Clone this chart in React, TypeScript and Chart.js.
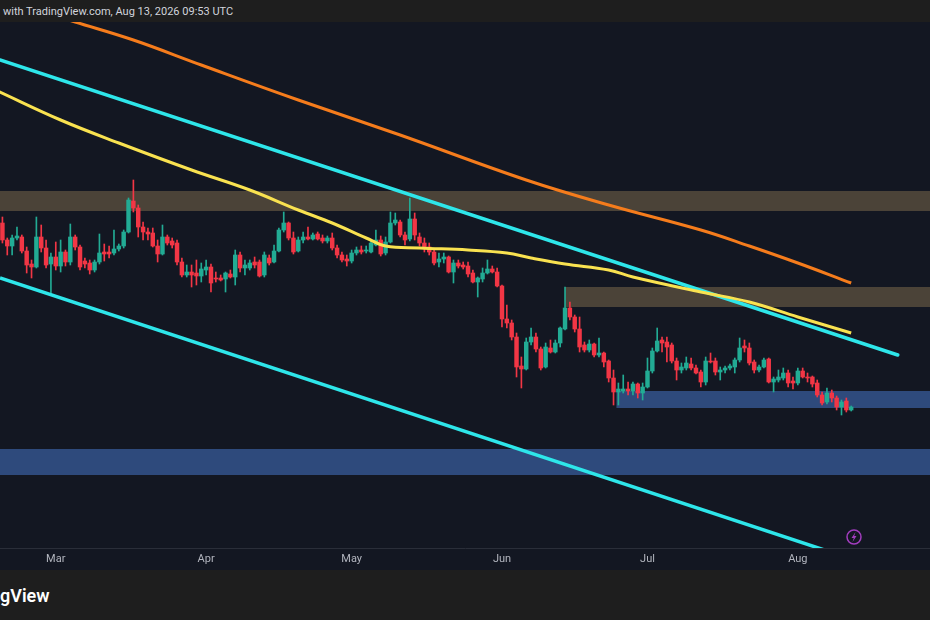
import { useEffect, useRef } from "react"
import { Chart, registerables, type Plugin } from "chart.js"

Chart.register(...registerables)

// daily candles, day-of-year index (Jan 1 = 0), first one is Feb 18
const firstDay = 48

const opens = [
  377, 360, 354, 362, 363, 349, 336, 333, 363, 352, 336, 343, 334, 348,
  338, 363, 353, 339, 337, 330, 338, 348, 348, 347, 351, 354, 368, 399,
  392, 373, 368, 367, 354, 346, 363, 359, 357, 338, 325, 328, 327, 324,
  330, 333, 322, 322, 321, 326, 323, 345, 332, 332, 338, 338, 325, 342,
  338, 349, 370, 377, 362, 349, 360, 363, 361, 366, 362, 359,
  362, 352, 345, 341, 339, 347, 350, 349, 348, 355, 360, 347, 358, 377, 378, 365, 361, 381, 363, 357, 353, 348,
  338, 341, 343, 328, 337, 335, 334, 327, 318, 321, 327, 331, 328, 314, 281, 277, 263, 234, 231, 258,
  263, 251, 233, 252, 248, 257, 271, 292, 283, 271,
  255, 250, 256, 245, 247, 239, 222, 208, 209, 211, 209, 216, 207, 213, 229, 249, 260, 258, 255, 239,
  230, 232, 236, 232, 228, 218, 239, 239, 228, 230,
  232, 233, 240, 254, 252, 238, 230, 233, 241, 218, 220, 222, 227, 219, 217, 229, 223, 223, 217, 205,
  198, 207, 202, 193, 199, 190,
]
const highs = [
  383, 362, 365, 373, 365, 353, 340, 383, 375, 360, 347, 358, 360, 350,
  376, 365, 355, 342, 340, 340, 366, 356, 354, 370, 356, 370, 402, 420,
  395, 378, 372, 372, 360, 375, 365, 362, 360, 342, 335, 335, 340, 337,
  340, 336, 328, 325, 328, 330, 350, 348, 340, 340, 343, 340, 348, 345,
  355, 372, 388, 378, 368, 363, 368, 373, 367, 368, 365, 364,
  367, 355, 348, 345, 350, 353, 354, 354, 360, 370, 364, 363, 388, 387, 380, 368, 402, 387, 367, 362, 357, 350,
  347, 347, 344, 340, 340, 338, 338, 330, 323, 332, 340, 334, 332, 315, 295, 280, 267, 243, 262, 272,
  267, 253, 257, 260, 260, 273, 313, 298, 285, 283,
  258, 260, 257, 262, 248, 240, 230, 217, 225, 218, 218, 217, 217, 242, 252, 272, 263, 263, 257, 242,
  237, 243, 242, 235, 230, 243, 247, 242, 233, 234,
  236, 242, 262, 260, 257, 240, 235, 242, 242, 223, 230, 232, 230, 223, 232, 232, 227, 224, 220, 208,
  212, 210, 204, 200, 202, 194,
]
const lows = [
  357, 345, 345, 360, 347, 327, 322, 332, 348, 332, 307, 330, 328, 334,
  335, 350, 330, 332, 326, 328, 336, 339, 342, 345, 349, 352, 367, 388,
  363, 360, 360, 353, 338, 345, 355, 352, 335, 323, 323, 313, 315, 318,
  325, 308, 318, 319, 308, 322, 315, 328, 325, 330, 332, 323, 323, 335,
  337, 348, 368, 360, 346, 348, 357, 360, 360, 360, 357, 357,
  350, 342, 338, 334, 337, 345, 346, 347, 347, 354, 344, 345, 357, 375, 363, 355, 359, 360, 354, 348, 345, 335,
  333, 337, 327, 317, 332, 331, 323, 317, 303, 318, 326, 327, 313, 273, 272, 260, 223, 212, 230, 255,
  248, 230, 232, 247, 247, 253, 270, 280, 268, 248,
  248, 248, 243, 243, 233, 218, 195, 195, 207, 205, 205, 202, 200, 212, 227, 248, 248, 238, 237, 220,
  227, 230, 230, 226, 213, 215, 237, 225, 220, 227,
  230, 227, 238, 248, 235, 227, 228, 232, 217, 208, 218, 220, 213, 211, 215, 222, 218, 213, 203, 195,
  196, 198, 190, 185, 188, 189,
]
const closes = [
  360, 354, 362, 364, 349, 335, 333, 363, 352, 335, 343, 334, 348, 338,
  363, 353, 333, 336, 330, 338, 347, 346, 346, 351, 354, 368, 400, 392,
  373, 368, 366, 354, 346, 363, 357, 355, 338, 325, 328, 325, 324, 331,
  333, 317, 321, 320, 327, 323, 345, 332, 335, 337, 335, 324, 345, 337,
  349, 370, 377, 362, 348, 360, 363, 361, 365, 361, 359, 362,
  352, 345, 340, 339, 347, 350, 348, 350, 357, 360, 346, 358, 377, 380, 365, 360, 381, 365, 357, 353, 348, 337,
  341, 343, 328, 337, 334, 333, 326, 318, 322, 327, 331, 328, 314, 281, 277, 263, 233, 231, 258, 263,
  251, 232, 253, 248, 257, 272, 292, 283, 271, 253,
  250, 256, 245, 247, 238, 222, 208, 211, 211, 209, 216, 207, 213, 229, 249, 259, 257, 253, 239, 230,
  233, 237, 232, 227, 218, 239, 238, 228, 230, 232,
  234, 240, 252, 252, 237, 230, 233, 240, 218, 221, 223, 227, 217, 217, 229, 223, 222, 216, 205, 197,
  207, 202, 193, 198, 190, 193,
]

const maYellow = [
  [47, 509], [60, 480], [72, 457], [87, 430], [99, 410], [109, 390], [116, 377], [123, 362],
  [127, 354], [134, 352], [144, 350], [152, 347], [157, 342], [164, 336], [173, 330], [178, 323],
  [192, 308], [202, 298], [212, 283], [223, 267],
]
const maOrange = [
  [47, 602], [63, 578], [75, 560], [89, 535], [109, 500], [130, 465], [156, 420], [173, 395],
  [192, 370], [202, 354], [212, 337], [223, 317],
]

// descending channel
const channelUpper = [[47.5, 540], [232.6, 245]]
const channelLower = [[47.5, 322], [220, 46]]

// zones: [fromDay, toDay, low, high]
const supplyZones = [[40, 250, 389, 409], [164, 250, 293, 313]]
const demandZones = [[174.6, 250, 192, 209], [40, 250, 125, 151]]

const monthTicks = [59, 90, 120, 151, 181, 212]
const monthLabels = ["Mar", "Apr", "May", "Jun", "Jul", "Aug"]

const UP = "#22ab94"
const DOWN = "#f23645"

const zonesPlugin: Plugin = {
  id: "zones",
  beforeDatasetsDraw(chart) {
    const { ctx, chartArea, scales } = chart
    const draw = (zones: number[][], color: string) => {
      zones.forEach(([from, to, low, high]) => {
        const x1 = Math.max(scales.x.getPixelForValue(from), chartArea.left)
        const x2 = Math.min(scales.x.getPixelForValue(to), chartArea.right)
        const y1 = scales.y.getPixelForValue(high)
        const y2 = scales.y.getPixelForValue(low)
        ctx.fillStyle = color
        ctx.fillRect(x1, y1, x2 - x1, y2 - y1)
      })
    }
    ctx.save()
    draw(supplyZones, "#4b4338")
    draw(demandZones, "#2e4a7c")
    ctx.restore()
  },
}

const iconPlugin: Plugin = {
  id: "icon",
  afterDraw(chart) {
    const { ctx, chartArea } = chart
    const cx = chartArea.right - 76
    const cy = chartArea.bottom - 11
    ctx.save()
    ctx.strokeStyle = "#a23dbf"
    ctx.lineWidth = 1.5
    ctx.beginPath()
    ctx.arc(cx, cy, 7, 0, Math.PI * 2)
    ctx.stroke()
    ctx.fillStyle = "#a23dbf"
    ctx.beginPath()
    ctx.moveTo(cx + 1.5, cy - 5)
    ctx.lineTo(cx - 2.5, cy + 1)
    ctx.lineTo(cx - 0.2, cy + 1)
    ctx.lineTo(cx - 1.5, cy + 5)
    ctx.lineTo(cx + 2.5, cy - 1)
    ctx.lineTo(cx + 0.2, cy - 1)
    ctx.closePath()
    ctx.fill()
    ctx.restore()
  },
}

export default function App() {
  const canvasRef = useRef<HTMLCanvasElement>(null)

  useEffect(() => {
    if (!canvasRef.current) return
    const days = opens.map((_, i) => firstDay + i)
    const colors = opens.map((o, i) => (closes[i] >= o ? UP : DOWN))
    const toPoints = (pts: number[][]) => pts.map(([x, y]) => ({ x, y }))

    const chart = new Chart(canvasRef.current, {
      type: "bar",
      data: {
        datasets: [
          {
            type: "line",
            data: toPoints(maOrange),
            borderColor: "#f57c1c",
            borderWidth: 3,
            pointRadius: 0,
            tension: 0.4,
            order: 0,
          },
          {
            type: "line",
            data: toPoints(maYellow),
            borderColor: "#f9e250",
            borderWidth: 3,
            pointRadius: 0,
            tension: 0.4,
            order: 0,
          },
          {
            type: "line",
            data: toPoints(channelUpper),
            borderColor: "#2ee6ea",
            borderWidth: 3.5,
            borderCapStyle: "round",
            pointRadius: 0,
            order: 0,
          },
          {
            type: "line",
            data: toPoints(channelLower),
            borderColor: "#2ee6ea",
            borderWidth: 3.5,
            pointRadius: 0,
            order: 0,
          },
          {
            type: "bar",
            data: days.map((d, i) => ({ x: d, y: [opens[i], closes[i]] })),
            backgroundColor: colors,
            barThickness: 3.8,
            minBarLength: 1,
            grouped: false,
            order: 1,
          },
          {
            type: "bar",
            data: days.map((d, i) => ({ x: d, y: [lows[i], highs[i]] })),
            backgroundColor: colors,
            barThickness: 1,
            grouped: false,
            order: 2,
          },
        ] as any,
      },
      options: {
        animation: false,
        responsive: true,
        maintainAspectRatio: false,
        events: [],
        layout: { padding: 0 },
        plugins: { legend: { display: false }, tooltip: { enabled: false } },
        scales: {
          x: {
            type: "linear",
            min: 47.5,
            max: 239.25,
            offset: false,
            grid: { display: false, drawTicks: false },
            border: { display: true, color: "#2a2e39" },
            afterBuildTicks: (scale) => {
              scale.ticks = monthTicks.map((value) => ({ value }))
            },
            afterFit: (scale) => {
              scale.height = 22
            },
            ticks: {
              autoSkip: false,
              maxRotation: 0,
              padding: 5,
              color: "#b2b5be",
              font: { family: "Roboto, Inter, sans-serif", size: 11 },
              callback: (value) => monthLabels[monthTicks.indexOf(Number(value))] ?? "",
            },
          },
          y: {
            display: false,
            min: 52,
            max: 578,
          },
        },
      },
      plugins: [zonesPlugin, iconPlugin],
    })

    return () => chart.destroy()
  }, [])

  return (
    <div style={{ position: "fixed", left: 0, top: 0, width: 930, height: 620, background: "#131722", overflow: "hidden" }}>
      <div
        style={{
          height: 22,
          background: "#1e1e1e",
          color: "#d1d4dc",
          font: "11px Roboto, Inter, sans-serif",
          lineHeight: "23px",
          paddingLeft: 3,
          whiteSpace: "nowrap",
        }}
      >
        with TradingView.com, Aug 13, 2026 09:53 UTC
      </div>
      <div style={{ position: "relative", width: 930, height: 548 }}>
        <canvas ref={canvasRef} />
      </div>
      <div
        style={{
          height: 50,
          background: "#1e1e1e",
          color: "#ffffff",
          font: "600 18px Roboto, Inter, sans-serif",
          lineHeight: "52px",
          whiteSpace: "nowrap",
        }}
      >
        gView
      </div>
    </div>
  )
}
